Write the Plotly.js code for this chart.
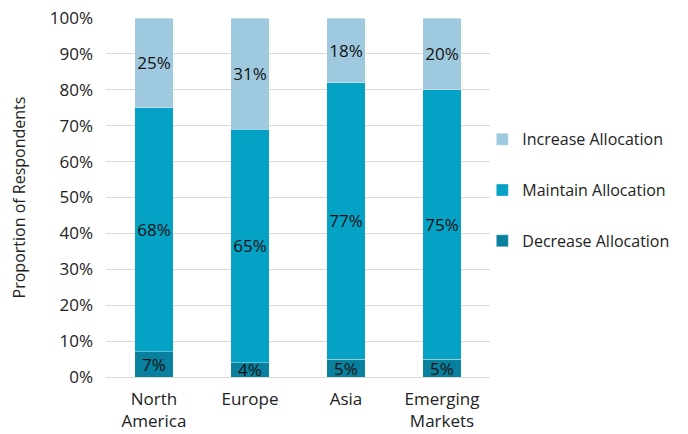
<!DOCTYPE html>
<html>
<head>
<meta charset="utf-8">
<script src="https://cdn.plot.ly/plotly-3.0.1.min.js"></script>
<style>html,body{margin:0;padding:0;background:#fff;}#chart{width:688px;height:434px;}</style>
</head>
<body>
<div id="chart"></div>
<script>
const categories = ["North<br>America", "Europe", "Asia", "Emerging<br>Markets"];
const decreaseValues = [7, 4, 5, 5];
const maintainValues = [68, 65, 77, 75];
const increaseValues = [25, 31, 18, 20];
const seriesNames = ["Decrease Allocation", "Maintain Allocation", "Increase Allocation"];
const yTickValues = [0, 10, 20, 30, 40, 50, 60, 70, 80, 90, 100];
const yTickLabels = yTickValues.map(v => v + "%");

const colors = ["#0a809f", "#06a2c6", "#9fc9de"];
const series = [decreaseValues, maintainValues, increaseValues];

const traces = series.map((vals, i) => ({
  type: "bar",
  x: categories,
  y: vals,
  name: seriesNames[i],
  legendgroup: "g" + i,
  legendrank: 3 - i,
  marker: {color: colors[i], line: {color: "rgba(255,255,255,0.35)", width: 1}},
  text: vals.map(v => v + "%"),
  textposition: "inside",
  insidetextanchor: "middle",
  textangle: 0,
  constraintext: "none",
  textfont: {color: "#111", size: 17, family: "Open Sans, sans-serif"},
  hoverinfo: "none",
  width: 0.4
}));

const layout = {
  width: 688,
  height: 434,
  margin: {l: 106, r: 198, t: 18, b: 57, autoexpand: false},
  barmode: "stack",
  paper_bgcolor: "#fff",
  plot_bgcolor: "#fff",
  font: {family: "Open Sans, sans-serif", color: "#222", size: 16},
  showlegend: true,
  legend: {
    x: 0.98, xanchor: "left",
    y: 0.52, yanchor: "middle",
    bgcolor: "rgba(0,0,0,0)",
    traceorder: "grouped",
    tracegroupgap: 27,
    font: {size: 16, color: "#222"},
    itemwidth: 30
  },
  xaxis: {
    tickfont: {size: 17, color: "#222"},
    showgrid: false,
    showline: false,
    zeroline: false,
    ticklabelstandoff: 10,
    fixedrange: true
  },
  yaxis: {
    range: [0, 100],
    tickvals: yTickValues,
    ticktext: yTickLabels,
    tickfont: {size: 17, color: "#222"},
    gridcolor: "#d9d9d9",
    gridwidth: 1,
    zeroline: true,
    zerolinecolor: "#d9d9d9",
    zerolinewidth: 1,
    ticklabelstandoff: 12,
    title: {text: "Proportion of Respondents", font: {size: 16, color: "#222"}, standoff: 20},
    fixedrange: true
  }
};

Plotly.newPlot("chart", traces, layout, {displayModeBar: false, staticPlot: true});
</script>
</body>
</html>
